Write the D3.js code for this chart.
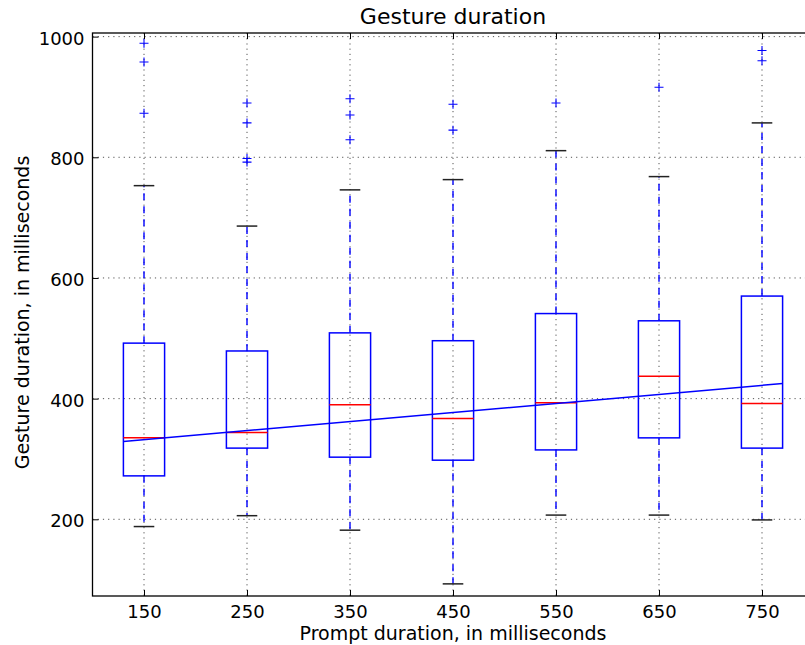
<!DOCTYPE html>
<html>
<head>
<meta charset="utf-8">
<script src="https://cdn.jsdelivr.net/npm/d3@7/dist/d3.min.js"></script>
<style>
  html, body { margin: 0; padding: 0; background: #fff; }
  svg { display: block; }
  text { font-family: "DejaVu Sans", sans-serif; fill: #000; }
</style>
</head>
<body>
<svg id="chart" width="805" height="645"></svg>
<script>
// ---- data ----
const promptMs    = [150, 250, 350, 450, 550, 650, 750];
const q1          = [272, 318, 303, 298, 315, 335, 318];
const medians     = [335, 344, 390, 367, 393, 437, 392];
const q3          = [492, 479, 509, 496, 541, 529, 570];
const whiskerLow  = [188, 206, 182,  93, 207, 207, 199];
const whiskerHigh = [753, 686, 746, 763, 811, 768, 857];
const fliers      = [[989, 958, 873], [890, 857, 798, 792], [897, 870, 829], [888, 845], [890], [916], [977, 960]];
const fitX        = [130, 770];
const fitY        = [329, 425];
const yTicks      = [200, 400, 600, 800, 1000];
const xTicks      = promptMs;

const titleText = "Gesture duration";
const xLabel = "Prompt duration, in milliseconds";
const yLabel = "Gesture duration, in milliseconds";

// ---- layout ----
const plotL = 92.5, plotR = 813.5, plotT = 33, plotB = 596;
const svg = d3.select("#chart");

const x = d3.scaleLinear().domain([100, 800]).range([plotL, plotR]);
const y = d3.scaleLinear().domain([72.9, 1006]).range([plotB, plotT]);

const boxHalf = 20, capHalf = 10;

// grid
const grid = svg.append("g");
grid.selectAll("line.gx").data(xTicks).join("line")
  .attr("x1", d => x(d)).attr("x2", d => x(d))
  .attr("y1", plotT).attr("y2", plotB)
  .attr("stroke", "#555").attr("stroke-width", 1).attr("stroke-dasharray", "1.2,4");
grid.selectAll("line.gy").data(yTicks).join("line")
  .attr("x1", plotL).attr("x2", plotR)
  .attr("y1", d => y(d)).attr("y2", d => y(d))
  .attr("stroke", "#555").attr("stroke-width", 1).attr("stroke-dasharray", "1.2,4");

const idx = d3.range(promptMs.length);
const g = svg.append("g");

// whiskers
g.selectAll("line.wl").data(idx).join("line")
  .attr("x1", i => x(promptMs[i])).attr("x2", i => x(promptMs[i]))
  .attr("y1", i => y(q1[i])).attr("y2", i => y(whiskerLow[i]))
  .attr("stroke", "#0000ff").attr("stroke-width", 1.4).attr("stroke-dasharray", "7,6");
g.selectAll("line.wh").data(idx).join("line")
  .attr("x1", i => x(promptMs[i])).attr("x2", i => x(promptMs[i]))
  .attr("y1", i => y(q3[i])).attr("y2", i => y(whiskerHigh[i]))
  .attr("stroke", "#0000ff").attr("stroke-width", 1.4).attr("stroke-dasharray", "7,6");

// caps
g.selectAll("line.cl").data(idx).join("line")
  .attr("x1", i => x(promptMs[i] - capHalf)).attr("x2", i => x(promptMs[i] + capHalf))
  .attr("y1", i => y(whiskerLow[i])).attr("y2", i => y(whiskerLow[i]))
  .attr("stroke", "#222").attr("stroke-width", 1.5);
g.selectAll("line.ch").data(idx).join("line")
  .attr("x1", i => x(promptMs[i] - capHalf)).attr("x2", i => x(promptMs[i] + capHalf))
  .attr("y1", i => y(whiskerHigh[i])).attr("y2", i => y(whiskerHigh[i]))
  .attr("stroke", "#222").attr("stroke-width", 1.5);

// boxes
g.selectAll("rect.box").data(idx).join("rect")
  .attr("x", i => x(promptMs[i] - boxHalf))
  .attr("width", i => x(promptMs[i] + boxHalf) - x(promptMs[i] - boxHalf))
  .attr("y", i => y(q3[i]))
  .attr("height", i => y(q1[i]) - y(q3[i]))
  .attr("fill", "none").attr("stroke", "#0000ff").attr("stroke-width", 1.5);

// medians
g.selectAll("line.med").data(idx).join("line")
  .attr("x1", i => x(promptMs[i] - boxHalf)).attr("x2", i => x(promptMs[i] + boxHalf))
  .attr("y1", i => y(medians[i])).attr("y2", i => y(medians[i]))
  .attr("stroke", "#ff0000").attr("stroke-width", 1.5);

// fliers
const flierPts = [];
fliers.forEach((arr, i) => arr.forEach(v => flierPts.push({ p: promptMs[i], v })));
const plusSize = 4.5;
g.selectAll("path.fl").data(flierPts).join("path")
  .attr("d", d => {
    const cx = x(d.p), cy = y(d.v);
    return `M${cx - plusSize},${cy}H${cx + plusSize}M${cx},${cy - plusSize}V${cy + plusSize}`;
  })
  .attr("stroke", "#0000ff").attr("stroke-width", 1.1).attr("fill", "none");

// regression line
const fitData = fitX.map((v, i) => [v, fitY[i]]);
g.append("path").datum(fitData)
  .attr("d", d3.line().x(d => x(d[0])).y(d => y(d[1])))
  .attr("stroke", "#0000ff").attr("stroke-width", 1.5).attr("fill", "none");

// spines
svg.append("rect")
  .attr("x", plotL).attr("y", plotT).attr("width", plotR - plotL).attr("height", plotB - plotT)
  .attr("fill", "none").attr("stroke", "#000").attr("stroke-width", 1.3);

// axes (inward ticks, both sides)
const tickLen = 6;
const fmt = d3.format("d");
const axB = svg.append("g").attr("transform", `translate(0,${plotB})`)
  .call(d3.axisBottom(x).tickValues(xTicks).tickFormat(fmt).tickSizeInner(-tickLen).tickSizeOuter(0));
const axT = svg.append("g").attr("transform", `translate(0,${plotT})`)
  .call(d3.axisTop(x).tickValues(xTicks).tickSizeInner(-tickLen).tickSizeOuter(0).tickFormat(""));
const axL = svg.append("g").attr("transform", `translate(${plotL},0)`)
  .call(d3.axisLeft(y).tickValues(yTicks).tickFormat(fmt).tickSizeInner(-tickLen).tickSizeOuter(0));
const axR = svg.append("g").attr("transform", `translate(${plotR},0)`)
  .call(d3.axisRight(y).tickValues(yTicks).tickSizeInner(-tickLen).tickSizeOuter(0).tickFormat(""));
[axB, axT, axL, axR].forEach(a => {
  a.select(".domain").remove();
  a.attr("font-family", null).attr("font-size", null);
  a.selectAll(".tick line").attr("stroke", "#000").attr("stroke-width", 1);
});
axB.selectAll(".tick text").attr("font-size", 18).attr("font-family", "DejaVu Sans")
  .attr("dy", null).attr("y", 21.5);
axL.selectAll(".tick text").attr("font-size", 18).attr("font-family", "DejaVu Sans")
  .attr("dy", null).attr("y", 7.5).attr("x", -8);

// title and labels
svg.append("text").attr("x", (plotL + plotR) / 2).attr("y", 24)
  .attr("text-anchor", "middle").attr("font-size", 22).text(titleText);
svg.append("text").attr("x", (plotL + plotR) / 2).attr("y", 640)
  .attr("text-anchor", "middle").attr("font-size", 19).text(xLabel);
svg.append("text")
  .attr("transform", `translate(28.5,${(plotT + plotB) / 2 - 2}) rotate(-90)`)
  .attr("text-anchor", "middle").attr("font-size", 19).text(yLabel);
</script>
</body>
</html>
